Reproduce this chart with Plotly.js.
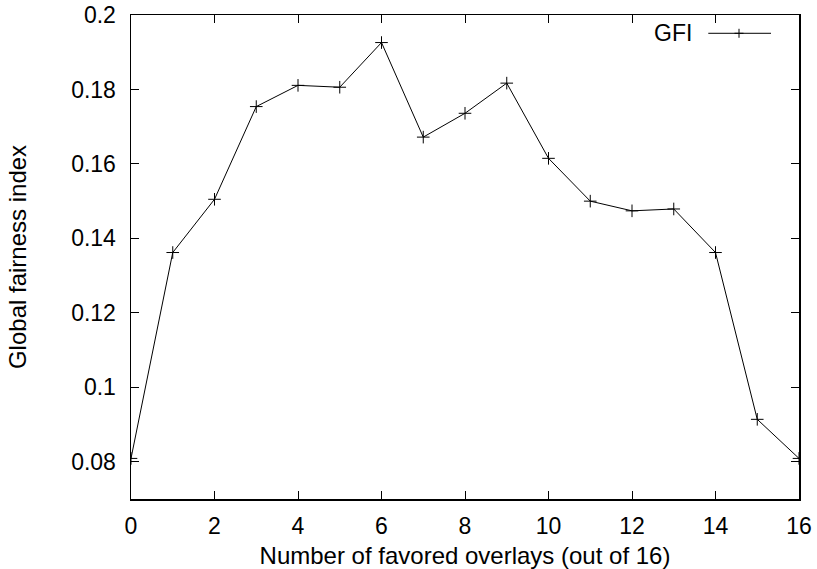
<!DOCTYPE html>
<html>
<head>
<meta charset="utf-8">
<script src="https://cdn.plot.ly/plotly-3.0.1.min.js"></script>
<style>html,body{margin:0;padding:0;background:#fff}#chart{width:817px;height:569px}</style>
</head>
<body>
<div id="chart"></div>
<script>
const overlays = [0,1,2,3,4,5,6,7,8,9,10,11,12,13,14,15,16];
const gfi = [0.0809,0.1362,0.1505,0.1754,0.1811,0.1806,0.1926,0.1672,0.1736,0.1817,0.1615,0.1500,0.1474,0.1479,0.1362,0.0914,0.0809];
const xTickVals = [0,2,4,6,8,10,12,14,16];
const xTickText = ['0','2','4','6','8','10','12','14','16'];
const yTickVals = [0.08,0.1,0.12,0.14,0.16,0.18,0.2];
const yTickText = ['0.08','0.1','0.12','0.14','0.16','0.18','0.2'];
const seriesName = 'GFI';

const fam = '"Liberation Sans", Arial, sans-serif';
const tickFont = {family:fam, size:23, color:'#000'};
const titleFont = {family:fam, size:24, color:'#000'};
const legFont = {family:fam, size:23, color:'#000'};

const trace = {
  x: overlays, y: gfi, type:'scatter', mode:'lines+markers', name: seriesName,
  line:{color:'#000', width:1},
  marker:{symbol:'cross-thin', size:9, color:'#000', line:{color:'#000', width:1}},
  showlegend:false
};

const legY = 0.9622, legX = 0.9102;
const layout = {
  width:817, height:569,
  margin:{l:131, r:18, t:15, b:70, pad:0},
  paper_bgcolor:'#fff', plot_bgcolor:'#fff',
  font: tickFont,
  showlegend:false,
  xaxis:{
    range:[0,16], tickvals:xTickVals, ticktext:xTickText,
    ticks:'inside', ticklen:8, tickwidth:1, tickcolor:'#000',
    showline:true, linewidth:1.5, linecolor:'#000', mirror:'ticks',
    showgrid:false, zeroline:false, tickfont:tickFont, ticklabelstandoff:6,
    title:{text:'Number of favored overlays (out of 16)', font:titleFont, standoff:11}
  },
  yaxis:{
    range:[0.07,0.2], tickvals:yTickVals, ticktext:yTickText,
    ticks:'inside', ticklen:8, tickwidth:1, tickcolor:'#000',
    showline:true, linewidth:1.5, linecolor:'#000', mirror:'ticks',
    showgrid:false, zeroline:false, tickfont:tickFont, ticklabelstandoff:9,
    title:{text:'Global fairness index', font:titleFont, standoff:37}
  },
  annotations:[{
    xref:'paper', yref:'paper', x:0.8398, y:legY, xanchor:'right', yanchor:'middle',
    text:seriesName, showarrow:false, font:legFont, xshift:2
  }],
  shapes:[
    {type:'line', xref:'paper', yref:'paper', x0:0.8642, x1:0.9581, y0:legY, y1:legY, line:{color:'#000', width:1}},
    {type:'line', xref:'paper', yref:'paper', xsizemode:'pixel', ysizemode:'pixel', xanchor:legX, yanchor:legY, x0:-4.5, x1:4.5, y0:0, y1:0, line:{color:'#000', width:1}},
    {type:'line', xref:'paper', yref:'paper', xsizemode:'pixel', ysizemode:'pixel', xanchor:legX, yanchor:legY, x0:0, x1:0, y0:-4.5, y1:4.5, line:{color:'#000', width:1}}
  ]
};

Plotly.newPlot('chart', [trace], layout, {displayModeBar:false, staticPlot:true});
</script>
</body>
</html>
